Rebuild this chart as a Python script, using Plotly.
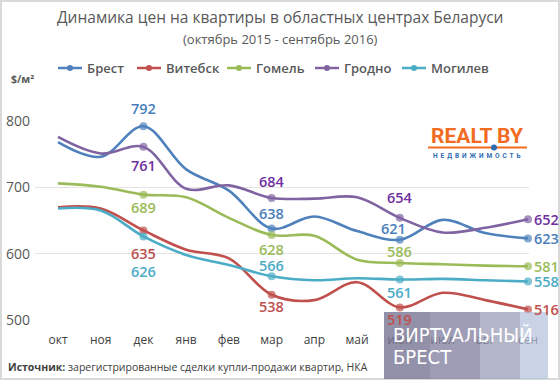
import plotly.graph_objects as go

months = ["окт", "ноя", "дек", "янв", "фев", "мар", "апр", "май", "июн", "июл", "авг", "сен"]
brest   = [768, 746, 792, 727, 695, 638, 656, 634, 621, 651, 631, 623]
vitebsk = [670, 668, 635, 606, 593, 538, 530, 557, 519, 541, 530, 516]
gomel   = [706, 701, 689, 685, 654, 628, 627, 591, 586, 584, 582, 581]
grodno  = [776, 751, 761, 698, 703, 684, 683, 685, 654, 632, 639, 652]
mogilev = [668, 665, 626, 598, 583, 566, 560, 563, 561, 562, 560, 558]
y_ticks = [500, 600, 700, 800]
labeled = [2, 5, 8, 11]

names = ["Брест", "Витебск", "Гомель", "Гродно", "Могилев"]
series = [brest, vitebsk, gomel, grodno, mogilev]
line_colors = ["#4F81BD", "#C0504D", "#9BBB59", "#8064A2", "#4BACC6"]
label_colors = ["#4A7EBB", "#C0504D", "#9BBB59", "#7030A0", "#4BACC6"]

# label offsets (dx, dy in px, screen-down positive) for labeled points
offsets = [
    [(0, -18), (0, -15), (-6, -11), "r"],
    [(0, 23), (0, 12), (0, 12), "r"],
    [(0, 13), (0, 14), (0, -11), "r"],
    [(0, 19), (0, -16), (0, -20), "r"],
    [(0, 35), (0, -11), (0, 13), "r"],
]

W, H = 560, 380
L, R, T, B = 35, 529, 120, 321

def px(x):
    return (x - L) / (R - L)

def py(y):
    return (B - y) / (B - T)

FONT = "Open Sans, Noto Sans, sans-serif"
GRAY = "#595959"

fig = go.Figure()
for name, vals, lc in zip(names, series, line_colors):
    sizes = [8 if i in labeled else 0 for i in range(len(vals))]
    fig.add_trace(go.Scatter(
        x=list(range(len(months))), y=vals, mode="lines+markers", name=name,
        line=dict(color=lc, width=2.6, shape="spline", smoothing=1.0),
        marker=dict(size=sizes, color=lc, line=dict(width=0)), showlegend=False,
        hoverinfo="skip", cliponaxis=False,
    ))

annotations = []
for vals, off, col in zip(series, offsets, label_colors):
    for k, idx in enumerate(labeled):
        o = off[k]
        if o == "r":
            annotations.append(dict(x=idx, y=vals[idx], xref="x", yref="y", text=str(vals[idx]),
                                    showarrow=False, xanchor="left", yanchor="middle", xshift=4,
                                    font=dict(family=FONT, size=14.5, color=col, weight=600)))
        else:
            annotations.append(dict(x=idx, y=vals[idx], xref="x", yref="y", text=str(vals[idx]),
                                    showarrow=False, xanchor="center", yanchor="middle",
                                    xshift=o[0], yshift=-o[1],
                                    font=dict(family=FONT, size=14.5, color=col, weight=600)))

# titles
annotations.append(dict(x=px(280), y=py(17), xref="paper", yref="paper", showarrow=False,
                        text="Динамика цен на квартиры в областных центрах Беларуси",
                        xanchor="center", yanchor="middle",
                        font=dict(family=FONT, size=15.5, color=GRAY)))
annotations.append(dict(x=px(280), y=py(39), xref="paper", yref="paper", showarrow=False,
                        text="(октябрь 2015 - сентябрь 2016)", xanchor="center", yanchor="middle",
                        font=dict(family=FONT, size=13, color=GRAY)))
annotations.append(dict(x=px(9), y=py(79), xref="paper", yref="paper", showarrow=False,
                        text="$/м²", xanchor="left", yanchor="middle",
                        font=dict(family=FONT, size=10.5, color=GRAY, weight=700)))
annotations.append(dict(x=px(6), y=py(367), xref="paper", yref="paper", showarrow=False,
                        text="<b>Источник:</b> зарегистрированные сделки купли-продажи квартир, НКА",
                        xanchor="left", yanchor="middle",
                        font=dict(family=FONT, size=10.5, color="#404040")))

shapes = []
# legend
leg_x = [58, 137, 227, 315, 402]
leg_y = 68
for nm, lc, lx in zip(names, line_colors, leg_x):
    shapes.append(dict(type="line", xref="paper", yref="paper", x0=px(lx), x1=px(lx + 24),
                       y0=py(leg_y), y1=py(leg_y), line=dict(color=lc, width=2.5)))
    shapes.append(dict(type="circle", xref="paper", yref="paper", x0=px(lx + 9), x1=px(lx + 15),
                       y0=py(leg_y - 3), y1=py(leg_y + 3), fillcolor=lc, line=dict(width=0)))
    annotations.append(dict(x=px(lx + 27), y=py(leg_y), xref="paper", yref="paper", showarrow=False,
                            text=nm, xanchor="left", yanchor="middle",
                            font=dict(family=FONT, size=13, color=GRAY, weight=600)))

# frame
shapes.append(dict(type="rect", xref="paper", yref="paper", x0=px(1), x1=px(559), y0=py(1), y1=py(379),
                   line=dict(color="#D9D9D9", width=2), layer="below"))

# REALT BY logo
annotations.append(dict(x=px(477), y=py(136), xref="paper", yref="paper", showarrow=False,
                        text="REALT BY", xanchor="center", yanchor="middle",
                        font=dict(family="Roboto, sans-serif", size=21, color="#F26B21", weight=700)))
shapes.append(dict(type="line", xref="paper", yref="paper", x0=px(428), x1=px(527), y0=py(147.5), y1=py(147.5),
                   line=dict(color="#F26B21", width=2)))
shapes.append(dict(type="circle", xref="paper", yref="paper", x0=px(491), x1=px(497), y0=py(144.5), y1=py(150.5),
                   fillcolor="#2E6DB4", line=dict(width=0)))
annotations.append(dict(x=px(477), y=py(156), xref="paper", yref="paper", showarrow=False,
                        text="Н\u2009 Е\u2009 Д\u2009 В\u2009 И\u2009 Ж\u2009 И\u2009 М\u2009 О\u2009 С\u2009 Т\u2009 Ь",
                        xanchor="center", yanchor="middle",
                        font=dict(family="Roboto, sans-serif", size=6.5, color="#2E6DB4", weight=700)))

# watermark
wm = [(384, 430, "rgba(120,116,148,0.80)"), (430, 480, "rgba(132,130,160,0.78)"),
      (480, 520, "rgba(150,152,180,0.72)"), (520, 548, "rgba(180,192,218,0.70)")]
for x0, x1, c in wm:
    shapes.append(dict(type="rect", xref="paper", yref="paper", x0=px(x0), x1=px(x1), y0=py(312), y1=py(379),
                       fillcolor=c, line=dict(width=0), layer="above"))
WMFONT = "Liberation Sans Narrow, DejaVu Sans Condensed, Roboto Condensed, sans-serif"
annotations.append(dict(x=px(391), y=py(335), xref="paper", yref="paper", showarrow=False,
                        text="ВИРТУАЛЬНЫЙ", xanchor="left", yanchor="middle",
                        font=dict(family=WMFONT, size=20, color="white")))
annotations.append(dict(x=px(391), y=py(357), xref="paper", yref="paper", showarrow=False,
                        text="БРЕСТ", xanchor="left", yanchor="middle",
                        font=dict(family=WMFONT, size=20, color="white")))

ppu = 199 / 300
fig.update_layout(
    width=W, height=H, margin=dict(l=L, r=W - R, t=T, b=H - B, autoexpand=False),
    paper_bgcolor="white", plot_bgcolor="white",
    xaxis=dict(range=[-(58 - L) / 42.727, 11 + (R - 528) / 42.727], tickmode="array",
               tickvals=list(range(len(months))), ticktext=months, showgrid=False, zeroline=False,
               showline=False, ticks="", ticklabelstandoff=10, automargin=False,
               tickfont=dict(family=FONT, size=12, color="#404040")),
    yaxis=dict(range=[500 - 1 / ppu, 800 + 1 / ppu], tickmode="array", tickvals=y_ticks,
               showgrid=True, gridcolor="#E3E3E3", gridwidth=1.3, zeroline=False, showline=False,
               ticks="", ticklabelstandoff=4, automargin=False,
               tickfont=dict(family=FONT, size=14, color=GRAY)),
    annotations=annotations, shapes=shapes, showlegend=False,
)
fig.write_html("out.html", config={"displayModeBar": False},
               post_script="document.body.style.margin='0';document.body.style.padding='0';")
